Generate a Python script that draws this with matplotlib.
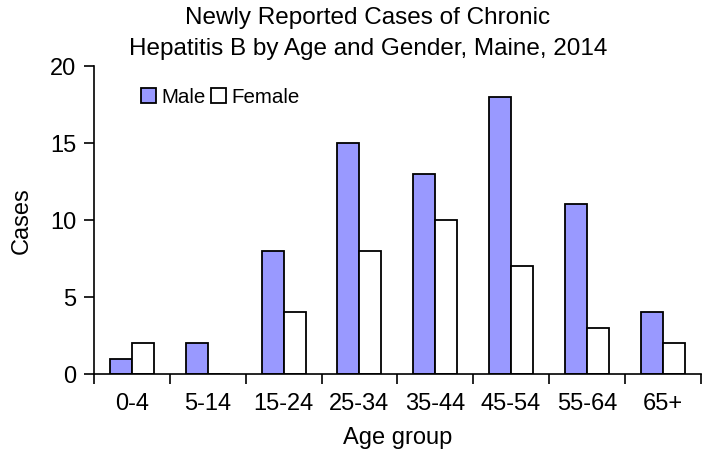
import matplotlib.pyplot as plt
import numpy as np

plt.rcParams['font.family'] = ['Liberation Sans', 'DejaVu Sans']

age_groups = ["0-4", "5-14", "15-24", "25-34", "35-44", "45-54", "55-64", "65+"]
male = [1, 2, 8, 15, 13, 18, 11, 4]
female = [2, 0, 4, 8, 10, 7, 3, 2]

fig = plt.figure(figsize=(7.02, 4.64), dpi=100)
ax = fig.add_axes([0.134, 0.192, 0.864, 0.664])

x = np.arange(len(age_groups))
width = 0.29
ax.bar(x - width / 2, male, width, color='#9999ff', edgecolor='black', linewidth=1.3, label='Male')
ax.bar(x + width / 2, female, width, color='white', edgecolor='black', linewidth=1.3, label='Female')

ax.set_xlim(-0.5, len(age_groups) - 0.5)
ax.set_ylim(0, 20)
ax.set_yticks([0, 5, 10, 15, 20])
ax.set_xticks(np.arange(len(age_groups) + 1) - 0.5)
ax.set_xticklabels([])
ax.set_xticks(x, minor=True)
ax.set_xticklabels(age_groups, minor=True)
ax.tick_params(axis='x', which='minor', length=0, pad=13, labelsize=17)
ax.tick_params(axis='x', which='major', length=7, width=1.2, direction='out')
ax.tick_params(axis='y', length=7, width=1.2, direction='out', labelsize=17, pad=6)

for side in ['top', 'right']:
    ax.spines[side].set_visible(False)
for side in ['left', 'bottom']:
    ax.spines[side].set_linewidth(1.2)

ax.set_ylabel('Cases', fontsize=17, labelpad=12)
ax.set_xlabel('Age group', fontsize=17, labelpad=9)

fig.text(0.524, 0.984, 'Newly Reported Cases of Chronic\nHepatitis B by Age and Gender, Maine, 2014',
         ha='center', va='top', fontsize=17.5, linespacing=1.5)

ax.legend(loc='upper left', bbox_to_anchor=(0.057, 0.97), ncol=2, frameon=False, fontsize=14.8,
          handlelength=0.72, handleheight=0.72, handletextpad=0.25, columnspacing=0.3,
          borderaxespad=0.2)

fig.savefig('out.png', dpi=100)
